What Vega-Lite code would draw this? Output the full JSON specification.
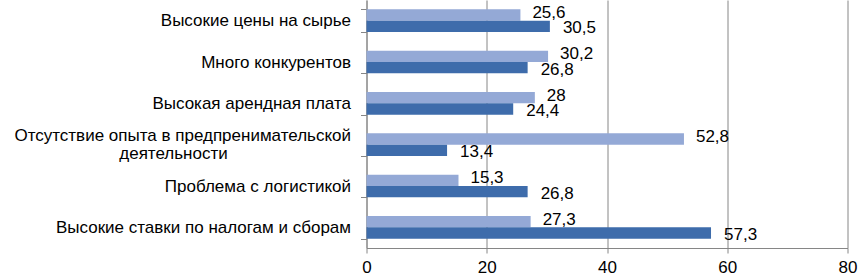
{
  "$schema": "https://vega.github.io/schema/vega-lite/v6.json",
  "width": 481,
  "height": 248,
  "autosize": {"type": "none"},
  "padding": {"left": 366.5, "top": 0, "right": 10.5, "bottom": 28},
  "config": {
    "view": {"stroke": null},
    "font": "Liberation Sans",
    "locale": {"number": {"decimal": ",", "thousands": " ", "grouping": [3], "currency": ["", ""]}}
  },
  "data": {
    "values": [
      {"cat": "Высокие цены на сырье", "series": "Ряд 1", "value": 25.6},
      {"cat": "Высокие цены на сырье", "series": "Ряд 2", "value": 30.5},
      {"cat": "Много конкурентов", "series": "Ряд 1", "value": 30.2},
      {"cat": "Много конкурентов", "series": "Ряд 2", "value": 26.8},
      {"cat": "Высокая арендная плата", "series": "Ряд 1", "value": 28},
      {"cat": "Высокая арендная плата", "series": "Ряд 2", "value": 24.4},
      {"cat": "Отсутствие опыта в предпренимательской деятельности", "series": "Ряд 1", "value": 52.8},
      {"cat": "Отсутствие опыта в предпренимательской деятельности", "series": "Ряд 2", "value": 13.4},
      {"cat": "Проблема с логистикой", "series": "Ряд 1", "value": 15.3},
      {"cat": "Проблема с логистикой", "series": "Ряд 2", "value": 26.8},
      {"cat": "Высокие ставки по налогам и сборам", "series": "Ряд 1", "value": 27.3},
      {"cat": "Высокие ставки по налогам и сборам", "series": "Ряд 2", "value": 57.3}
    ]
  },
  "encoding": {
    "y": {
      "field": "cat",
      "type": "nominal",
      "sort": null,
      "title": null,
      "scale": {"paddingInner": 0.45, "paddingOuter": 0.225},
      "axis": {
        "tickBand": "extent",
        "tickSize": 6,
        "tickColor": "#868686",
        "domainColor": "#868686",
        "labelColor": "#000000",
        "labelFontSize": 17,
        "labelLimit": 400,
        "labelExpr": "indexof(datum.label, 'деятельности') >= 0 ? 'Отсутствие опыта в предпренимательской' : datum.label",
        "labelOffset": {"condition": {"test": "indexof(datum.label, 'деятельности') >= 0", "value": -9.5}, "value": 0},
        "labelAlign": "right",
        "labelPadding": 10,
        "grid": false
      }
    },
    "x": {
      "field": "value",
      "type": "quantitative",
      "title": null,
      "scale": {"domain": [0, 80], "nice": false},
      "axis": {
        "values": [0, 20, 40, 60, 80],
        "grid": true,
        "gridColor": "#868686",
        "domainColor": "#868686",
        "tickColor": "#868686",
        "tickSize": 5,
        "labelPadding": 6,
        "labelFlush": false,
        "labelFontSize": 17,
        "labelColor": "#000000"
      }
    }
  },
  "layer": [
    {
      "mark": {"type": "bar"},
      "encoding": {
        "yOffset": {"field": "series", "sort": ["Ряд 1", "Ряд 2"]},
        "color": {"field": "series", "type": "nominal", "scale": {"domain": ["Ряд 1", "Ряд 2"], "range": ["#94A9D6", "#3E6CAB"]}, "legend": null}
      }
    },
    {
      "transform": [{"filter": "datum.series == 'Ряд 1'"}],
      "mark": {"type": "text", "align": "left", "baseline": "middle", "dx": 12, "dy": -2, "fontSize": 17, "color": "#000000"},
      "encoding": {
        "yOffset": {"field": "series", "sort": ["Ряд 1", "Ряд 2"], "scale": {"domain": ["Ряд 1", "Ряд 2"]}},
        "text": {"field": "value", "type": "quantitative", "format": ".1~f"}
      }
    },
    {
      "transform": [{"filter": "datum.series == 'Ряд 2'"}],
      "mark": {"type": "text", "align": "left", "baseline": "middle", "dx": 13, "dy": 2, "fontSize": 17, "color": "#000000"},
      "encoding": {
        "yOffset": {"field": "series", "sort": ["Ряд 1", "Ряд 2"], "scale": {"domain": ["Ряд 1", "Ряд 2"]}},
        "text": {"field": "value", "type": "quantitative", "format": ".1~f"}
      }
    },
    {
      "transform": [{"filter": "datum.series == 'Ряд 1' && indexof(datum.cat, 'деятельности') >= 0"}],
      "mark": {"type": "text", "align": "center", "baseline": "middle", "dx": -193, "dy": 9.5, "fontSize": 17, "color": "#000000"},
      "encoding": {
        "x": {"datum": 0},
        "text": {"value": "деятельности"}
      }
    }
  ]
}
